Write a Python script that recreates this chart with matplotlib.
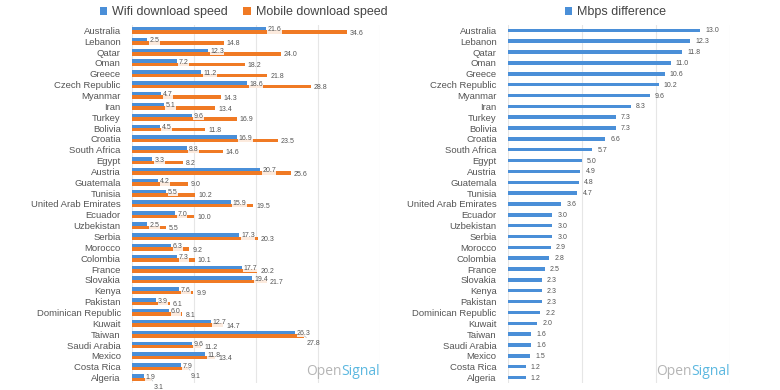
import matplotlib.pyplot as plt
import numpy as np

countries = ['Australia', 'Lebanon', 'Qatar', 'Oman', 'Greece', 'Czech Republic',
             'Myanmar', 'Iran', 'Turkey', 'Bolivia', 'Croatia', 'South Africa',
             'Egypt', 'Austria', 'Guatemala', 'Tunisia', 'United Arab Emirates',
             'Ecuador', 'Uzbekistan', 'Serbia', 'Morocco', 'Colombia', 'France',
             'Slovakia', 'Kenya', 'Pakistan', 'Dominican Republic', 'Kuwait',
             'Taiwan', 'Saudi Arabia', 'Mexico', 'Costa Rica', 'Algeria']
wifi = [21.6, 2.5, 12.3, 7.2, 11.2, 18.6, 4.7, 5.1, 9.6, 4.5, 16.9, 8.8,
        3.3, 20.7, 4.2, 5.5, 15.9, 7.0, 2.5, 17.3, 6.3, 7.3, 17.7,
        19.4, 7.6, 3.9, 6.0, 12.7, 26.3, 9.6, 11.8, 7.9, 1.9]
mobile = [34.6, 14.8, 24.0, 18.2, 21.8, 28.8, 14.3, 13.4, 16.9, 11.8, 23.5, 14.6,
          8.2, 25.6, 9.0, 10.2, 19.5, 10.0, 5.5, 20.3, 9.2, 10.1, 20.2,
          21.7, 9.9, 6.1, 8.1, 14.7, 27.8, 11.2, 13.4, 9.1, 3.1]
difference = [13.0, 12.3, 11.8, 11.0, 10.6, 10.2, 9.6, 8.3, 7.3, 7.3, 6.6, 5.7,
              5.0, 4.9, 4.8, 4.7, 3.6, 3.0, 3.0, 3.0, 2.9, 2.8, 2.5,
              2.3, 2.3, 2.3, 2.2, 2.0, 1.6, 1.6, 1.5, 1.2, 1.2]

BLUE = '#4a8fd8'
ORANGE = '#f07a24'
GRID = '#e6e6e6'
TEXT = '#555555'
FONT = 'Liberation Sans'

fig = plt.figure(figsize=(7.8, 3.9), dpi=100)
ax1 = fig.add_axes([0.1692, 0.018, 0.318, 0.918])
ax2 = fig.add_axes([0.651, 0.018, 0.2846, 0.918])

y = np.arange(len(countries))
h = 0.32

# left: wifi vs mobile
ax1.barh(y - h / 2, wifi, height=h, color=BLUE, label='Wifi download speed', zorder=3)
ax1.barh(y + h / 2, mobile, height=h, color=ORANGE, label='Mobile download speed', zorder=3)
for yi, w, m in zip(y, wifi, mobile):
    ax1.text(w + 0.3, yi - 0.05, f'{w:.1f}', fontsize=5, color=TEXT, va='center', ha='left',
             family=FONT, zorder=5,
             bbox=dict(boxstyle='square,pad=0.05', fc='white', ec='none', alpha=0.85))
    if m - w <= 1.5:
        ax1.annotate(f'{m:.1f}', xy=(m, yi + h / 2), xytext=(m + 0.4, yi + 0.9),
                     fontsize=5, color=TEXT, va='center', ha='left', family=FONT,
                     arrowprops=dict(arrowstyle='-', color='#bbbbbb', lw=0.5), zorder=5)
    else:
        ax1.text(m + 0.5, yi + 0.25, f'{m:.1f}', fontsize=5, color=TEXT, va='center',
                 ha='left', family=FONT, zorder=5)

ax1.set_xlim(0, 40)
ax1.set_xticks([0, 10, 20, 30, 40])
ax1.legend(loc='lower center', bbox_to_anchor=(0.45, 1.015), ncol=2, frameon=False,
           handlelength=0.6, handleheight=0.6, handletextpad=0.4, columnspacing=1.2,
           prop={'family': FONT, 'size': 9}, labelcolor='#444444',
           borderaxespad=0, borderpad=0.1)

# right: difference
ax2.barh(y, difference, height=h, color=BLUE, label='Mbps difference', zorder=3)
for yi, d in zip(y, difference):
    ax2.text(d + 0.35, yi + 0.05, f'{d:.1f}', fontsize=5, color=TEXT, va='center', ha='left',
             family=FONT, zorder=5)
ax2.set_xlim(0, 15)
ax2.set_xticks([0, 5, 10, 15])
ax2.legend(loc='lower center', bbox_to_anchor=(0.486, 1.015), frameon=False,
           handlelength=0.6, handleheight=0.6, handletextpad=0.4,
           prop={'family': FONT, 'size': 9}, labelcolor='#444444',
           borderaxespad=0, borderpad=0.1)

for ax in (ax1, ax2):
    ax.set_ylim(len(countries) - 0.5, -0.5)
    ax.set_yticks(y)
    ax.set_yticklabels(countries, family=FONT, fontsize=6.8, color=TEXT)
    ax.tick_params(axis='y', length=0, pad=8)
    ax.tick_params(axis='x', length=0, labelbottom=False)
    ax.grid(axis='x', color=GRID, lw=0.8, zorder=0)
    for s in ax.spines.values():
        s.set_visible(False)
    # OpenSignal watermark
    t2 = ax.text(1.0, 0.012, 'Signal', transform=ax.transAxes, ha='right', va='bottom',
                 fontsize=10, color='#5cb8e0', family='Open Sans')
    fig.canvas.draw()
    bb = t2.get_window_extent().transformed(ax.transAxes.inverted())
    ax.text(bb.x0, 0.012, 'Open', transform=ax.transAxes, ha='right', va='bottom',
            fontsize=10, color='#b5b5b5', family='Open Sans')

fig.savefig('out.png', dpi=100, facecolor='white')
